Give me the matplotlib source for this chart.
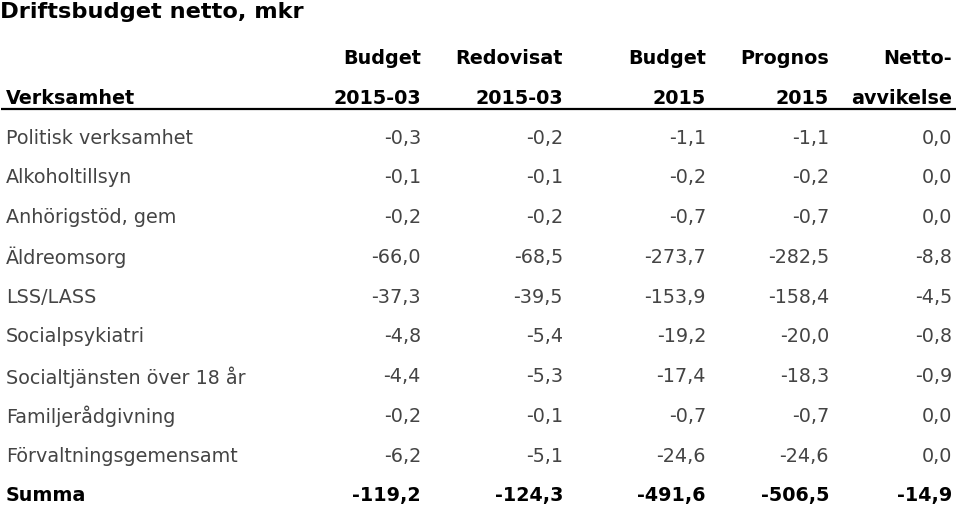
import matplotlib
matplotlib.use("Agg")
import matplotlib.pyplot as plt

title = "Driftsbudget netto, mkr"
header_top = ["", "Budget", "Redovisat", "Budget", "Prognos", "Netto-"]
header_bottom = ["Verksamhet", "2015-03", "2015-03", "2015", "2015", "avvikelse"]

categories = [
    "Politisk verksamhet",
    "Alkoholtillsyn",
    "Anhörigstöd, gem",
    "Äldreomsorg",
    "LSS/LASS",
    "Socialpsykiatri",
    "Socialtjänsten över 18 år",
    "Familjerådgivning",
    "Förvaltningsgemensamt",
]
budget_2015_03 = [-0.3, -0.1, -0.2, -66.0, -37.3, -4.8, -4.4, -0.2, -6.2]
redovisat_2015_03 = [-0.2, -0.1, -0.2, -68.5, -39.5, -5.4, -5.3, -0.1, -5.1]
budget_2015 = [-1.1, -0.2, -0.7, -273.7, -153.9, -19.2, -17.4, -0.7, -24.6]
prognos_2015 = [-1.1, -0.2, -0.7, -282.5, -158.4, -20.0, -18.3, -0.7, -24.6]
nettoavvikelse = [0.0, 0.0, 0.0, -8.8, -4.5, -0.8, -0.9, 0.0, 0.0]

total_label = "Summa"
total_values = [-119.2, -124.3, -491.6, -506.5, -14.9]

columns = [budget_2015_03, redovisat_2015_03, budget_2015, prognos_2015, nettoavvikelse]


def fmt(v):
    return f"{v:.1f}".replace(".", ",")


W, H = 959, 508
fig = plt.figure(figsize=(W / 100, H / 100), dpi=100)
ax = fig.add_axes([0, 0, 1, 1])
ax.set_xlim(0, W)
ax.set_ylim(H, 0)
ax.axis("off")

plt.rcParams["font.family"] = ["DejaVu Sans"]
body_color = "#444444"
fs = 13.8
col_right = [421, 563, 706, 829, 952]
x_left = 6

ax.text(0, 12, title, fontsize=16.2, fontweight="bold", ha="left", va="center", color="black")

for i, lab in enumerate(header_top):
    if lab:
        ax.text(col_right[i - 1], 59, lab, fontsize=fs, fontweight="bold", ha="right", va="center", color="black")
for i, lab in enumerate(header_bottom):
    if i == 0:
        ax.text(x_left, 99, lab, fontsize=fs, fontweight="bold", ha="left", va="center", color="black")
    else:
        ax.text(col_right[i - 1], 99, lab, fontsize=fs, fontweight="bold", ha="right", va="center", color="black")

ax.plot([1, 956], [109, 109], color="black", lw=1.6, solid_capstyle="butt")

row_y0, row_dy = 138, 39.8
for r, cat in enumerate(categories):
    y = row_y0 + r * row_dy
    ax.text(x_left, y, cat, fontsize=fs, ha="left", va="center", color=body_color)
    for c, col in enumerate(columns):
        ax.text(col_right[c], y, fmt(col[r]), fontsize=fs, ha="right", va="center", color=body_color)

y = row_y0 + len(categories) * row_dy - 0.5
ax.text(x_left, y, total_label, fontsize=fs, fontweight="bold", ha="left", va="center", color="black")
for c, v in enumerate(total_values):
    ax.text(col_right[c], y, fmt(v), fontsize=fs, fontweight="bold", ha="right", va="center", color="black")

fig.savefig("out.png", dpi=100)
